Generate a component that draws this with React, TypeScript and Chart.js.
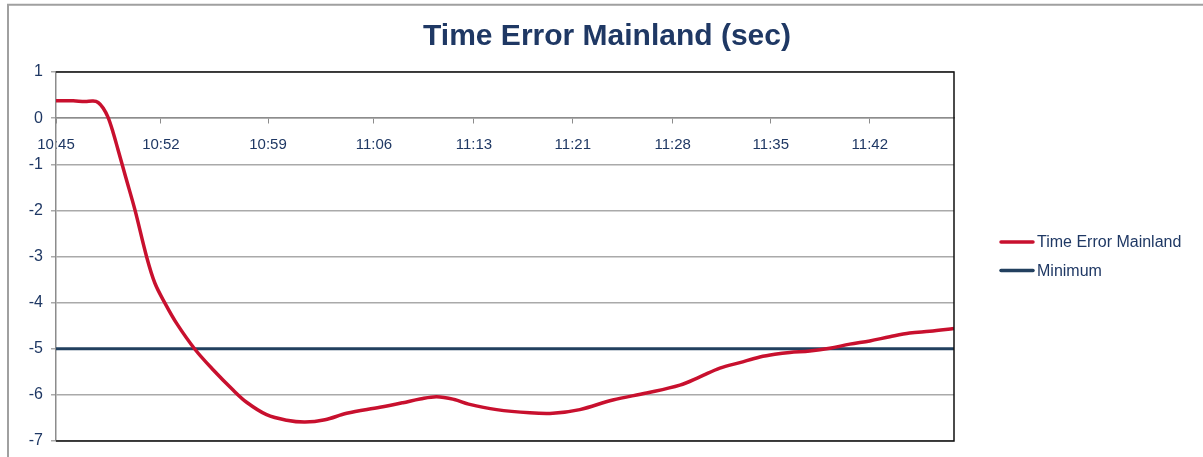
import React, { useEffect, useRef } from 'react';
import { Chart, registerables } from 'chart.js';

Chart.register(...registerables);

// ---- data ----
const chartTitle = 'Time Error Mainland (sec)';
const seriesNames = ['Time Error Mainland', 'Minimum'];
const tickLabels = ['10:45', '10:52', '10:59', '11:06', '11:13', '11:21', '11:28', '11:35', '11:42'];
// tick positions along the time axis (minutes after 10:45)
const tickPositions = [0, 7.35, 14.85, 22.27, 29.27, 36.2, 43.2, 50.07, 57.0];
const axisEnd = 62.9;
// sample times (minutes after 10:45)
const sampleTimes = [
  0, 1.2, 2.03, 2.6, 2.95, 3.3, 3.64, 3.99, 4.34, 4.9, 5.53, 6.35, 6.93, 7.63, 8.45, 9.73,
  11.02, 12.42, 13.35, 14.75, 16.16, 17.44, 18.84, 20.36, 22.69, 24.3, 25.5, 26.66, 27.9, 28.9,
  30.86, 33.19, 34.8, 36.69, 39.0, 41.37, 43.7, 45.1, 46.5, 47.9, 49.3, 50.35, 51.4,
  52.8, 54.2, 55.6, 57.0, 58.4, 59.8, 61.2, 62.9,
];
const timeError = [
  0.377, 0.375, 0.36, 0.37, 0.34, 0.22, 0.02, -0.3, -0.68, -1.3, -1.99, -3.01, -3.58, -4.01, -4.45, -5.01,
  -5.46, -5.9, -6.16, -6.43, -6.55, -6.59, -6.54, -6.4, -6.27, -6.17, -6.09, -6.04, -6.1, -6.2,
  -6.32, -6.39, -6.4, -6.32, -6.11, -5.96, -5.79, -5.61, -5.42, -5.3, -5.18, -5.12, -5.08,
  -5.05, -4.99, -4.9, -4.83, -4.74, -4.66, -4.62, -4.56,
];
const minimumLevel = -5;
const yMin = -7;
const yMax = 1;

// ---- style ----
const NAVY = '#1F3864';
const RED = '#C8102E';
const BLUE = '#22405F';
const GRID = '#AAAAAA';
const FONT = '"Liberation Sans", Arial, sans-serif';

const decorPlugin = {
  id: 'decor',
  beforeDraw(chart: any) {
    const ctx = chart.ctx;
    ctx.save();
    ctx.fillStyle = '#ffffff';
    ctx.fillRect(0, 0, chart.width, chart.height);
    ctx.strokeStyle = '#A0A0A0';
    ctx.lineWidth = 2;
    ctx.beginPath();
    ctx.moveTo(8, chart.height + 10);
    ctx.lineTo(8, 4.7);
    ctx.lineTo(chart.width + 10, 4.7);
    ctx.stroke();
    ctx.restore();
  },
  afterDraw(chart: any) {
    const ctx = chart.ctx;
    const { left, top, right, bottom } = chart.chartArea;
    ctx.save();
    // plot frame (top, right, bottom)
    ctx.strokeStyle = '#111111';
    ctx.lineWidth = 1.5;
    ctx.beginPath();
    ctx.moveTo(left, top);
    ctx.lineTo(right, top);
    ctx.lineTo(right, bottom);
    ctx.lineTo(left, bottom);
    ctx.stroke();
    // title
    ctx.fillStyle = NAVY;
    ctx.font = `bold 30px ${FONT}`;
    ctx.textAlign = 'center';
    ctx.textBaseline = 'middle';
    ctx.fillText(chartTitle, 607, 37);
    // legend
    const colors = [RED, BLUE];
    ctx.font = `16px ${FONT}`;
    ctx.textAlign = 'left';
    seriesNames.forEach((name, i) => {
      const y = 242 + i * 28.5;
      ctx.strokeStyle = colors[i];
      ctx.lineWidth = 3.5;
      ctx.lineCap = 'round';
      ctx.beginPath();
      ctx.moveTo(1001, y);
      ctx.lineTo(1033, y);
      ctx.stroke();
      ctx.fillStyle = NAVY;
      ctx.fillText(name, 1037, y + 1);
    });
    ctx.restore();
  },
};

export default function App() {
  const ref = useRef<HTMLCanvasElement | null>(null);

  useEffect(() => {
    if (!ref.current) return;
    const errorData = sampleTimes.map((t, i) => ({ x: t, y: timeError[i] }));
    const minData = sampleTimes.map((t) => ({ x: t, y: minimumLevel }));
    const chart = new Chart(ref.current, {
      type: 'line',
      data: {
        datasets: [
          {
            label: seriesNames[0],
            data: errorData,
            borderColor: RED,
            borderWidth: 3.5,
            pointRadius: 0,
            tension: 0.35,
            fill: false,
          },
          {
            label: seriesNames[1],
            data: minData,
            borderColor: BLUE,
            borderWidth: 3,
            pointRadius: 0,
            fill: false,
          },
        ],
      },
      options: {
        animation: false,
        responsive: false,
        devicePixelRatio: 1,
        layout: { padding: { left: 0, top: 72, right: 249, bottom: 16 } },
        plugins: {
          legend: { display: false },
          title: { display: false },
          tooltip: { enabled: false },
        },
        scales: {
          x: {
            type: 'linear',
            position: { y: 0 } as any,
            min: 0,
            max: axisEnd,
            afterBuildTicks: (scale: any) => {
              scale.ticks = tickPositions.map((v) => ({ value: v }));
            },
            grid: {
              drawOnChartArea: false,
              drawTicks: true,
              tickLength: 5,
              color: '#8C8C8C',
              lineWidth: 1,
            },
            border: { display: true, color: '#8C8C8C', width: 1.5 },
            ticks: {
              autoSkip: false,
              maxRotation: 0,
              padding: 13,
              color: NAVY,
              font: { family: FONT, size: 15 },
              callback: (_v: any, i: number) => tickLabels[i],
            },
          },
          y: {
            type: 'linear',
            min: yMin,
            max: yMax,
            afterFit: (scale: any) => {
              scale.width = 56;
              scale.paddingTop = 0;
              scale.paddingBottom = 0;
            },
            grid: {
              color: GRID,
              lineWidth: 1.5,
              drawTicks: true,
              tickLength: 5,
            },
            border: { display: true, color: '#8C8C8C', width: 1.5 },
            ticks: {
              stepSize: 1,
              padding: 8,
              color: NAVY,
              font: { family: FONT, size: 16 },
            },
          },
        },
      },
      plugins: [decorPlugin],
    });
    return () => chart.destroy();
  }, []);

  return (
    <div style={{ position: 'absolute', left: 0, top: 0, width: 1203, height: 457, background: '#fff' }}>
      <canvas ref={ref} width={1203} height={457} style={{ display: 'block' }} />
    </div>
  );
}
